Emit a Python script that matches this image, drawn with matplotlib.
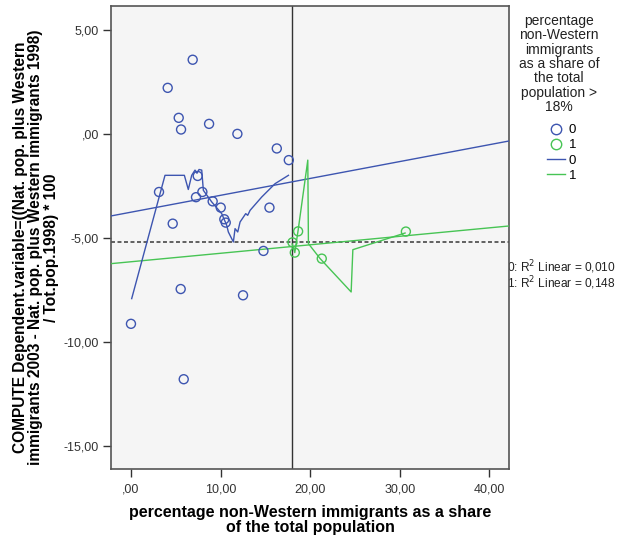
import numpy as np
import matplotlib
matplotlib.use("Agg")
import matplotlib.pyplot as plt
from matplotlib.lines import Line2D
from matplotlib.ticker import FuncFormatter

plt.rcParams['font.family'] = ['Liberation Sans', 'DejaVu Sans']

# Gruppe 0: Anteil nicht-westlicher Migranten <= 18%
x0 = [6.89, 4.10, 5.33, 5.59, 8.72, 11.88, 16.28, 17.62, 3.13, 7.45, 7.97, 7.26,
      9.12, 10.02, 10.42, 10.58, 15.46, 4.66, 14.79, 5.55, 12.51, 0.00, 5.89]
y0 = [3.55, 2.20, 0.76, 0.20, 0.47, -0.01, -0.71, -1.27, -2.80, -2.03, -2.80, -3.05,
      -3.25, -3.55, -4.11, -4.27, -3.55, -4.32, -5.63, -7.46, -7.76, -9.13, -11.79]

# Gruppe 1: > 18%
x1 = [18.03, 18.29, 18.66, 21.30, 30.69]
y1 = [-5.22, -5.71, -4.69, -6.00, -4.70]

# Glättungslinien
fit0_x = [0.08, 3.80, 5.96, 6.40, 6.78, 7.15, 7.37, 7.60, 7.90, 8.08, 9.02, 10.13,
          10.69, 10.87, 11.43, 11.62, 11.92, 12.18, 12.81, 13.03, 13.30, 14.60,
          16.09, 17.58]
fit0_y = [-7.92, -2.00, -2.00, -2.68, -2.00, -1.75, -1.90, -1.72, -1.75, -2.72,
          -3.28, -3.84, -4.40, -4.72, -5.20, -4.56, -4.72, -4.24, -3.84, -3.92,
          -3.68, -3.04, -2.40, -2.00]
fit1_x = [18.00, 18.29, 18.66, 19.74, 19.81, 21.12, 24.58, 24.77, 30.60]
fit1_y = [-5.30, -5.71, -4.64, -1.27, -5.28, -6.00, -7.60, -5.57, -4.77]

# Lineare Regression (Achsenabschnitt, Steigung)
reg0 = (-3.77, 0.081)
reg1 = (-6.15, 0.0407)
r2_0 = 0.010
r2_1 = 0.148

mean_y = -5.22
cut_x = 18.0

blau = '#3D55B0'
gruen = '#47C454'

fig = plt.figure(figsize=(6.18, 5.40), dpi=100)
ax = fig.add_axes([0.1796, 0.1315, 0.644, 0.8574])
ax.set_facecolor('#F5F5F5')

xlo, xhi = -2.23, 42.2
ax.set_xlim(xlo, xhi)
ax.set_ylim(-16.1, 6.13)

xx = np.array([xlo, xhi])
ax.plot(xx, reg0[0] + reg0[1] * xx, color=blau, lw=1.0, zorder=3)
ax.plot(xx, reg1[0] + reg1[1] * xx, color=gruen, lw=1.0, zorder=3)

ax.plot(fit0_x, fit0_y, color=blau, lw=1.0, zorder=3)
ax.plot(fit1_x, fit1_y, color=gruen, lw=1.0, zorder=3)

ax.axhline(mean_y, color='#555555', lw=1.3, ls=(0, (2.2, 1.4)), zorder=2)
ax.axvline(cut_x, color='#333333', lw=1.0, zorder=2)

ax.scatter(x0, y0, s=42, facecolors='none', edgecolors=blau, linewidths=1.0, zorder=4)
ax.scatter(x1, y1, s=42, facecolors='none', edgecolors=gruen, linewidths=1.0, zorder=4)

def fmt(v, pos):
    s = ('%.2f' % v).replace('.', ',')
    if s.startswith('0,'):
        s = s[1:]
    if s.startswith('-0,'):
        s = s[2:]
    return s

ax.set_xticks([0, 10, 20, 30, 40])
ax.set_yticks([5, 0, -5, -10, -15])
ax.xaxis.set_major_formatter(FuncFormatter(fmt))
ax.yaxis.set_major_formatter(FuncFormatter(fmt))
ax.tick_params(direction='out', length=5.5, width=1, color='#333333',
               labelsize=9, labelcolor='#333333', pad=3)
ax.tick_params(axis='x', pad=5)
for sp in ax.spines.values():
    sp.set_color('#555555')
    sp.set_linewidth(1.2)

ax.set_xlabel('percentage non-Western immigrants as a share\nof the total population',
              fontsize=11.5, fontweight='bold', linespacing=1.0, labelpad=7)
ax.set_ylabel('COMPUTE Dependent.variable=((Nat. pop. plus Western\n'
              'immigrants 2003 - Nat. pop. plus Western immigrants 1998)\n'
              '/ Tot.pop.1998) * 100',
              fontsize=11.2, fontweight='bold', linespacing=1.05)
ax.yaxis.set_label_coords(-0.131, 0.478)

# Legende
fig.text(559/618, 1 - 14/540,
         'percentage\nnon-Western\nimmigrants\nas a share of\nthe total\npopulation >\n18%',
         ha='center', va='top', fontsize=10, linespacing=1.03, color='#222222')
handles = [
    Line2D([], [], ls='none', marker='o', markersize=7.5, mfc='none', mec=blau, mew=1.0),
    Line2D([], [], ls='none', marker='o', markersize=7.5, mfc='none', mec=gruen, mew=1.0),
    Line2D([], [], color=blau, lw=1.0),
    Line2D([], [], color=gruen, lw=1.0),
]
leg = fig.legend(handles, ['0', '1', '0', '1'], loc='upper left',
                 bbox_to_anchor=(547/618, 1 - 124/540), frameon=False,
                 fontsize=9.5, handlelength=1.4, handletextpad=0.25,
                 labelspacing=0.22, borderaxespad=0, borderpad=0)

# R²-Texte hinter dem Achsenrahmen (wie im Original leicht verdeckt)
fig.text(507/618, 1 - 267/540, '0: R$^2$ Linear = %s' % ('%.3f' % r2_0).replace('.', ','),
         ha='left', va='center', fontsize=8.6, color='#222222', zorder=-1)
fig.text(507/618, 1 - 283/540, '1: R$^2$ Linear = %s' % ('%.3f' % r2_1).replace('.', ','),
         ha='left', va='center', fontsize=8.6, color='#222222', zorder=-1)

fig.savefig('out.png', dpi=100)
